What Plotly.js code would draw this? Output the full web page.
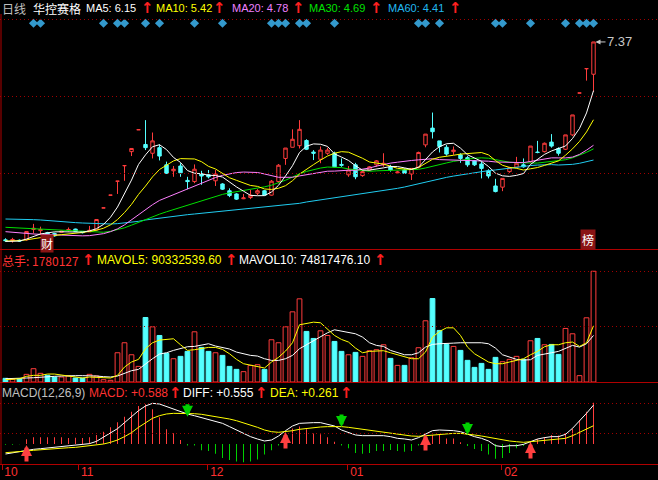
<!DOCTYPE html>
<html><head><meta charset="utf-8">
<script src="https://cdn.plot.ly/plotly-3.0.1.min.js"></script>
<style>html,body{margin:0;padding:0;background:#000;}#chart{width:658px;height:480px;}</style>
</head><body><div id="chart"></div>
<script>
// ---------------- data ----------------
const openP  = [2.41,2.39,2.40,2.41,2.67,2.64,2.59,2.57,2.60,2.65, 2.68,2.62,2.61,2.66,3.21,3.53,3.88,4.27,4.62,5.17, 4.80,4.58,4.72,4.29,4.14,4.26,3.90,3.87,4.06,4.04, 3.89,3.81,3.64,3.56,3.44,3.47,3.58,3.64,3.53,3.87, 4.45,4.73,4.77,4.90,4.61,4.43,4.58,4.58,4.30,4.04, 4.29,4.02,4.16,4.29,4.29,4.24,4.09,4.16,4.06,4.23, 4.79,5.21,4.89,4.73,4.62,4.54,4.47,4.39,4.31,4.14, 3.76,3.73,4.12,4.23,4.29,4.37,4.61,4.62,4.86,4.70, 4.68,5.04,6.09,6.70,6.56];
const highP  = [2.45,2.46,2.42,2.62,2.81,2.74,2.61,2.59,2.64,2.72, 2.69,2.63,2.76,2.92,3.21,3.53,3.88,4.27,4.70,5.17, 5.41,5.10,4.80,4.37,4.26,4.33,3.99,4.30,4.14,4.16, 4.16,3.83,3.70,3.58,3.56,3.66,3.68,3.66,3.91,4.31, 4.71,5.18,5.41,4.93,4.66,4.75,4.72,4.62,4.45,4.26, 4.34,4.14,4.26,4.41,4.58,4.29,4.14,4.20,4.20,4.62, 5.06,5.60,4.89,4.79,4.75,4.58,4.51,4.41,4.37,4.18, 3.94,3.95,4.24,4.49,4.45,4.76,4.89,4.85,5.06,4.73, 5.04,5.54,6.09,6.70,7.37];
const lowP   = [2.36,2.34,2.36,2.39,2.57,2.53,2.53,2.49,2.59,2.62, 2.61,2.57,2.61,2.64,3.21,3.53,3.56,3.89,4.51,5.17, 4.66,4.45,4.40,4.06,3.99,3.99,3.68,3.83,3.79,3.95, 3.76,3.66,3.48,3.41,3.43,3.43,3.53,3.53,3.52,3.83, 4.29,4.73,4.70,4.66,4.41,4.33,4.54,4.23,4.24,3.99, 3.93,3.99,4.14,4.24,4.24,4.12,4.08,4.06,3.91,4.20, 4.73,4.95,4.60,4.52,4.54,4.34,4.24,4.26,3.95,3.95, 3.60,3.63,4.09,4.20,4.22,4.34,4.58,4.60,4.72,4.52, 4.66,5.01,6.09,6.40,6.12];
const closeP = [2.39,2.42,2.38,2.62,2.70,2.67,2.55,2.51,2.63,2.67, 2.62,2.59,2.65,2.92,3.21,3.53,3.88,4.27,4.70,5.17, 4.72,4.89,4.51,4.08,4.18,4.09,3.87,4.18,4.01,3.99, 4.06,3.68,3.52,3.43,3.46,3.53,3.64,3.53,3.88,4.28, 4.71,4.93,5.18,4.68,4.58,4.66,4.66,4.24,4.28,4.16, 3.99,4.12,4.24,4.39,4.33,4.16,4.11,4.08,4.20,4.60, 5.06,5.12,4.75,4.56,4.66,4.45,4.29,4.29,4.20,4.01, 3.62,3.95,4.22,4.33,4.24,4.76,4.60,4.83,4.76,4.58, 5.04,5.54,6.09,6.70,7.37];

const ma5  = [2.37,2.38,2.38,2.43,2.502,2.558,2.584,2.610,2.612,2.606, 2.596,2.604,2.634,2.690,2.796,2.976,3.232,3.552,3.908,4.300, 4.540,4.744,4.794,4.672,4.476,4.350,4.146,4.080,4.066,4.028, 4.022,3.984,3.852,3.736,3.630,3.524,3.516,3.518,3.610,3.776, 4.010,4.268,4.598,4.756,4.814,4.806,4.752,4.564,4.484,4.400, 4.266,4.158,4.158,4.180,4.214,4.248,4.246,4.214,4.176,4.230, 4.410,4.612,4.746,4.818,4.830,4.708,4.542,4.450,4.378,4.248, 4.082,4.014,4.000,4.026,4.072,4.300,4.430,4.552,4.638,4.706, 4.762,4.950,5.202,5.590,6.15];
const ma10 = [2.38,2.38,2.39,2.41,2.44,2.47,2.50,2.52,2.54,2.554, 2.577,2.594,2.622,2.651,2.701,2.786,2.918,3.093,3.299,3.548, 3.758,3.988,4.173,4.290,4.388,4.445,4.445,4.437,4.369,4.252, 4.186,4.065,3.966,3.901,3.829,3.773,3.750,3.685,3.673,3.703, 3.767,3.892,4.058,4.183,4.295,4.408,4.510,4.581,4.620,4.607, 4.536,4.455,4.361,4.332,4.307,4.257,4.202,4.186,4.178,4.222, 4.329,4.429,4.480,4.497,4.530,4.559,4.577,4.598,4.598,4.539, 4.395,4.278,4.225,4.202,4.160,4.191,4.222,4.276,4.332,4.389, 4.531,4.690,4.877,5.114,5.42];
const ma20 = [2.615,2.598,2.573,2.565,2.557,2.548,2.540,2.532,2.523,2.520, 2.515,2.510,2.515,2.535,2.565,2.615,2.685,2.785,2.915,3.051, 3.168,3.291,3.398,3.471,3.545,3.616,3.682,3.765,3.834,3.900, 3.972,4.027,4.070,4.096,4.109,4.109,4.098,4.061,4.021,3.978, 3.977,3.979,4.012,4.042,4.062,4.091,4.130,4.133,4.147,4.155, 4.152,4.174,4.210,4.258,4.301,4.333,4.356,4.384,4.399,4.415, 4.433,4.442,4.421,4.415,4.419,4.408,4.390,4.392,4.388,4.381, 4.362,4.354,4.353,4.350,4.345,4.375,4.400,4.437,4.465,4.464, 4.463,4.484,4.551,4.658,4.78];
const ma30 = [2.724,2.715,2.699,2.690,2.674,2.665,2.657,2.649,2.640,2.632, 2.623,2.615,2.607,2.605,2.600,2.624,2.663,2.712,2.778,2.850, 2.916,2.992,3.054,3.113,3.169,3.228,3.279,3.340,3.398,3.451, 3.507,3.549,3.587,3.614,3.639,3.668,3.704,3.738,3.780,3.834, 3.904,3.982,4.066,4.125,4.171,4.209,4.235,4.234,4.221,4.187, 4.163,4.137,4.128,4.139,4.144,4.146,4.154,4.151,4.157,4.177, 4.211,4.259,4.300,4.337,4.377,4.408,4.430,4.455,4.465,4.456, 4.420,4.387,4.355,4.344,4.332,4.336,4.334,4.353,4.369,4.383, 4.418,4.466,4.527,4.604,4.69];
const ma60 = [2.932,2.932,2.924,2.924,2.916,2.908,2.891,2.874,2.857,2.849, 2.841,2.832,2.824,2.816,2.807,2.807,2.816,2.832,2.849,2.874, 2.908,2.932,2.958,2.983,3.008,3.025,3.041,3.058,3.075,3.091, 3.108,3.125,3.141,3.158,3.175,3.192,3.208,3.225,3.242,3.258, 3.275,3.300,3.325,3.359,3.384,3.409,3.434,3.467,3.492,3.517, 3.542,3.567,3.600,3.626,3.651,3.676,3.701,3.734,3.776,3.814, 3.859,3.904,3.943,3.976,4.008,4.038,4.067,4.097,4.123,4.145, 4.162,4.185,4.211,4.234,4.252,4.272,4.284,4.294,4.295,4.285, 4.291,4.302,4.328,4.372,4.41];

const volume = [59000,43000,48000,123000,214000,139000,107000,80000,80000,96000, 64000,64000,123000,96000,37000,27000,470000,631000,438000,251000, 1037000,887000,748000,460000,374000,412000,492000,807000,556000,492000, 470000,428000,251000,203000,166000,267000,278000,203000,679000,631000, 887000,1128000,1337000,813000,700000,823000,748000,652000,492000,438000, 476000,412000,503000,519000,599000,380000,267000,267000,390000,551000, 984000,1342000,829000,604000,572000,508000,348000,235000,299000,203000, 396000,326000,364000,412000,364000,663000,700000,599000,604000,444000, 861000,775000,102000,1032000,1780127];
const mavol5 = [37000,43000,53000,91000,107000,107000,128000,128000,112000,91000, 69000,64000,80000,75000,69000,64000,107000,241000,321000,364000, 535000,631000,674000,684000,695000,599000,508000,519000,535000,556000, 556000,524000,454000,364000,294000,267000,251000,225000,321000,396000, 497000,631000,920000,946000,962000,952000,855000,748000,684000,642000, 545000,470000,492000,492000,503000,470000,438000,401000,374000,374000, 481000,722000,813000,871000,871000,748000,561000,454000,390000,321000, 294000,294000,321000,347000,374000,438000,492000,567000,599000,599000, 631000,642000,572000,631000,903325];
const mavol10 = [53000,53000,53000,64000,69000,80000,86000,91000,96000,102000, 102000,102000,102000,96000,86000,80000,96000,134000,182000,203000, 294000,374000,449000,470000,508000,535000,567000,572000,588000,615000, 578000,560000,530000,481000,454000,428000,417000,374000,347000,347000, 374000,428000,535000,599000,652000,722000,791000,839000,818000,802000, 775000,722000,631000,588000,572000,508000,470000,438000,438000,470000, 561000,604000,615000,615000,625000,631000,631000,631000,631000,615000, 545000,438000,396000,364000,353000,358000,428000,454000,470000,492000, 535000,588000,561000,615000,748175];

const diff = [-0.143,-0.124,-0.105,-0.086,-0.076,-0.067,-0.057,-0.053,-0.043,-0.034, -0.024,-0.015,0.005,0.038,0.095,0.152,0.219,0.305,0.390,0.476, 0.543,0.581,0.571,0.533,0.495,0.462,0.428,0.404,0.376,0.343, 0.319,0.295,0.248,0.200,0.152,0.105,0.071,0.043,0.057,0.114, 0.190,0.257,0.295,0.305,0.305,0.305,0.286,0.257,0.200,0.160, 0.129,0.119,0.119,0.119,0.119,0.105,0.081,0.072,0.057,0.091, 0.143,0.191,0.200,0.200,0.191,0.176,0.138,0.105,0.081,0.043, -0.024,-0.038,-0.024,-0.024,-0.005,0.033,0.071,0.091,0.105,0.105, 0.138,0.224,0.329,0.438,0.555];
const dea = [-0.124,-0.119,-0.110,-0.100,-0.090,-0.081,-0.076,-0.067,-0.062,-0.053, -0.048,-0.038,-0.029,-0.019,0.000,0.024,0.057,0.105,0.162,0.238, 0.305,0.367,0.405,0.429,0.438,0.438,0.438,0.433,0.424,0.409, 0.390,0.376,0.357,0.333,0.305,0.271,0.238,0.200,0.176,0.167, 0.176,0.190,0.210,0.224,0.233,0.243,0.248,0.252,0.248,0.238, 0.224,0.214,0.200,0.186,0.176,0.162,0.148,0.129,0.114,0.110, 0.119,0.129,0.138,0.148,0.152,0.152,0.143,0.129,0.114,0.095, 0.071,0.052,0.043,0.033,0.024,0.033,0.043,0.052,0.067,0.071, 0.081,0.119,0.167,0.224,0.261];
const macd = [-0.010,-0.010,-0.005,0.067,0.095,0.095,0.095,0.095,0.095,0.086, 0.090,0.086,0.095,0.129,0.176,0.238,0.310,0.390,0.462,0.543, 0.567,0.495,0.381,0.210,0.152,0.057,-0.020,-0.020,-0.090,-0.100, -0.140,-0.200,-0.230,-0.250,-0.260,-0.250,-0.220,-0.150,-0.090,-0.020, 0.160,0.220,0.250,0.210,0.150,0.140,0.095,0.033,-0.020,-0.060, -0.130,-0.140,-0.130,-0.100,-0.100,-0.085,-0.100,-0.110,-0.100,-0.020, 0.070,0.130,0.140,0.080,0.080,0.024,-0.030,-0.070,-0.100,-0.150, -0.210,-0.200,-0.130,-0.060,-0.030,0.030,0.070,0.100,0.130,0.120, 0.150,0.220,0.340,0.460,0.588];

const signalBars = [4,5,14,16,17,20,22,27,31,38,39,40,42,43,47,59,60,62,70,71,75,80,82,83,84];
const goldenCrossBars = [3,40,60,75];
const goldenCrossVals = [-0.014,0.171,0.143,0.029];
const deathCrossBars = [26,48,66];
const deathCrossVals = [0.39,0.243,0.129];

const monthTickPos = [-0.5,10.4,28.9,48.9,70.9];
const monthTickText = ['10','11','12','01','02'];

// ---------------- styling ----------------
const W = 658, H = 480;
const RED = '#ff3c3c', CYAN = '#54ffff', GREEN = '#00d000';
const FONT = "'Liberation Sans', Arial, 'Noto Sans CJK SC', sans-serif";
const CJK = "'Noto Sans CJK SC', 'Liberation Sans', sans-serif";
const yp = y => 1 - y / H;
const xp = x => x / W;
const idx = closeP.map((_, i) => i);
const upDay = closeP.map((c, i) => c > openP[i] || (c === openP[i] && (i === 0 || c >= closeP[i - 1])));

const traces = [];
traces.push({type:'candlestick', x:idx, open:openP, high:highP, low:lowP, close:closeP,
  xaxis:'x', yaxis:'y', whiskerwidth:0, hoverinfo:'skip',
  increasing:{line:{color:RED, width:1}, fillcolor:'#000000'},
  decreasing:{line:{color:CYAN, width:1}, fillcolor:CYAN}});
[[ma60,'#20ccf0'],[ma30,'#00e000'],[ma20,'#ff80ff'],[ma10,'#ffff00'],[ma5,'#ffffff']].forEach(([arr,c]) => {
  traces.push({type:'scatter', mode:'lines', x:idx, y:arr, xaxis:'x', yaxis:'y', line:{color:c, width:1}, hoverinfo:'skip'});
});
traces.push({type:'scatter', mode:'markers', x:signalBars, y:signalBars.map(() => 7.837), xaxis:'x', yaxis:'y',
  marker:{symbol:'diamond', size:7, color:'#3399cc'}, hoverinfo:'skip'});

traces.push({type:'bar', x:idx, y:volume, xaxis:'x', yaxis:'y2', width:0.68, hoverinfo:'skip',
  marker:{color: upDay.map(u => u ? '#000000' : CYAN), line:{color: upDay.map(u => u ? RED : CYAN), width:1}}});
traces.push({type:'scatter', mode:'lines', x:idx, y:mavol10, xaxis:'x', yaxis:'y2', line:{color:'#ffffff', width:1}, hoverinfo:'skip'});
traces.push({type:'scatter', mode:'lines', x:idx, y:mavol5, xaxis:'x', yaxis:'y2', line:{color:'#ffff00', width:1}, hoverinfo:'skip'});

traces.push({type:'bar', x:idx, y:macd, xaxis:'x', yaxis:'y3', width:1/7, hoverinfo:'skip',
  marker:{color: macd.map(v => v >= 0 ? RED : GREEN), line:{width:0}}});
traces.push({type:'scatter', mode:'lines', x:idx, y:diff, xaxis:'x', yaxis:'y3', line:{color:'#ffffff', width:1}, hoverinfo:'skip'});
traces.push({type:'scatter', mode:'lines', x:idx, y:dea, xaxis:'x', yaxis:'y3', line:{color:'#ffff00', width:1}, hoverinfo:'skip'});

// ---------------- frame lines ----------------
const shapes = [];
const hl = (y, solid) => shapes.push({type:'line', xref:'paper', yref:'paper', x0:0, x1:1, y0:yp(y), y1:yp(y),
  line: solid ? {color:'#b00000', width:1} : {color:'#a00000', width:1, dash:'1px,3px'}});
hl(19.5,false); hl(96.5,false); hl(173.5,false); hl(249.5,true);
hl(271.5,false); hl(326.5,false); hl(382.5,true);
hl(403.5,false); hl(433.5,false); hl(464.5,true);
shapes.push({type:'line', xref:'paper', yref:'paper', x0:xp(1), x1:xp(1), y0:yp(14), y1:yp(464.5), line:{color:'#b00000', width:1}});

// ---------------- texts ----------------
const ann = [];
const txt = (x, y, s, color, size, fam) => ann.push({xref:'paper', yref:'paper', x:xp(x), y:yp(y), xanchor:'left', yanchor:'middle',
  text:s, showarrow:false, borderpad:0, font:{family:fam || FONT, size:size || 12, color}});
const up = (x, y) => txt(x, y, '<b>↑</b>', '#ff2020', 15, "'DejaVu Sans', sans-serif");
txt(1, 8, '日线', '#c0c0c0', 12, CJK);
txt(32, 8, '华控赛格', '#ffffff', 12, CJK);
txt(85, 8, 'MA5: 6.15', '#ffffff', 11); up(140, 8);
txt(155, 8, 'MA10: 5.42', '#ffff00', 11); up(212, 8);
txt(231, 8, 'MA20: 4.78', '#ee80ff', 11); up(291, 8);
txt(308, 8, 'MA30: 4.69', '#00e000', 11); up(369, 8);
txt(387, 8, 'MA60: 4.41', '#20b8f0', 11); up(448, 8);

txt(1, 260, '总手: 1780127', '#ff3232', 12, CJK); up(81, 260);
txt(96, 260, 'MAVOL5: 90332539.60', '#ffff00'); up(224, 260);
txt(238, 260, 'MAVOL10: 74817476.10', '#ffffff'); up(373, 260);

txt(1, 393, 'MACD(12,26,9)', '#c0c0c0');
txt(88, 393, 'MACD: +0.588', '#ff3232'); up(168, 393);
txt(182, 393, 'DIFF: +0.555', '#ffffff'); up(254, 393);
txt(269, 393, 'DEA: +0.261', '#ffff00'); up(339, 393);

ann.push({xref:'x', yref:'y', x:84, y:7.37, text:'7.37', showarrow:true, ax:26, ay:0, standoff:2,
  arrowhead:2, arrowsize:1, arrowwidth:1, arrowcolor:'#c8c8c8', font:{family:FONT, size:13, color:'#c8c8c8'}});
ann.push({xref:'paper', yref:'paper', x:xp(40), y:yp(243), text:'财', showarrow:false, bgcolor:'#8a1414', borderpad:0,
  font:{family:CJK, size:12, color:'#ffffff'}});
ann.push({xref:'paper', yref:'paper', x:xp(595.5), y:yp(239.5), text:'榜', showarrow:false, bgcolor:'#8a1414', borderpad:1,
  font:{family:CJK, size:12, color:'#ffffff'}});

goldenCrossBars.forEach((b, k) => ann.push({xref:'x', yref:'y3', x:b, y:goldenCrossVals[k], text:'', showarrow:true,
  ax:0, ay:18, arrowhead:2, arrowsize:0.55, arrowwidth:4, arrowcolor:'#ff4040', standoff:0}));
deathCrossBars.forEach((b, k) => ann.push({xref:'x', yref:'y3', x:b, y:deathCrossVals[k], text:'', showarrow:true,
  ax:0, ay:-14, arrowhead:2, arrowsize:0.55, arrowwidth:4, arrowcolor:'#00d000', standoff:0}));

const layout = {
  width: W, height: H, margin:{l:0, r:0, t:0, b:0},
  paper_bgcolor:'#000000', plot_bgcolor:'#000000', showlegend:false,
  font:{family:FONT, color:'#ffffff'}, barmode:'overlay',
  xaxis:{range:[-5.5/7, (W - 5.5)/7], anchor:'y3', showgrid:false, zeroline:false, showline:false,
    rangeslider:{visible:false}, ticks:'outside', ticklen:5, tickwidth:1, tickcolor:'#c00000',
    tickvals: monthTickPos, ticktext: monthTickText, ticklabelshift:9, ticklabelstandoff:-8,
    tickfont:{family:FONT, size:12, color:'#ff3030'}, fixedrange:true},
  yaxis:{domain:[yp(249), 1], range:[(336 - 249)/39.9, 336/39.9], visible:false, fixedrange:true},
  yaxis2:{domain:[yp(382), yp(249)], range:[0, 2.138e6], visible:false, fixedrange:true},
  yaxis3:{domain:[yp(464), yp(382)], range:[-20/70, 62/70], visible:false, fixedrange:true},
  shapes, annotations: ann
};
Plotly.newPlot('chart', traces, layout, {staticPlot:true, displayModeBar:false});
</script>
</body></html>
